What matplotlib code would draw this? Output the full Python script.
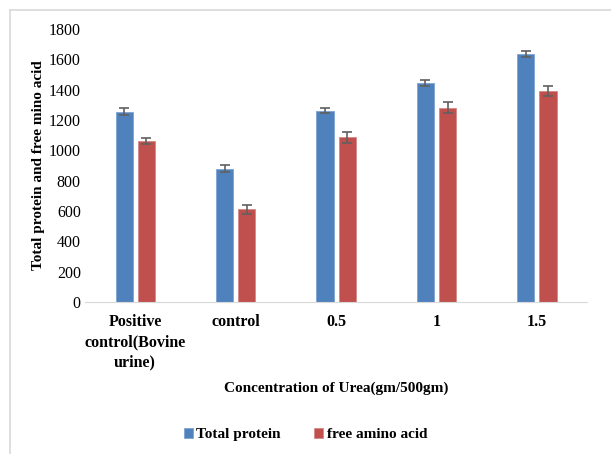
import matplotlib
matplotlib.use("Agg")
import matplotlib.pyplot as plt
from matplotlib.lines import Line2D
import numpy as np

# data
categories = ["Positive\ncontrol(Bovine\nurine)", "control", "0.5", "1", "1.5"]
total_protein = [1255, 880, 1262, 1445, 1635]
total_protein_err = [22, 22, 18, 22, 18]
free_amino = [1062, 610, 1085, 1282, 1390]
free_amino_err = [20, 28, 35, 38, 32]
yticks = [0, 200, 400, 600, 800, 1000, 1200, 1400, 1600, 1800]

plt.rcParams['font.family'] = ['Liberation Serif', 'DejaVu Serif']

fig = plt.figure(figsize=(6.11, 4.54), dpi=100)
ax = fig.add_axes([0.139, 0.335, 0.822, 0.601])

x = np.arange(len(categories))
w = 0.17
err_kw = dict(ecolor='#606060', capsize=3.5, elinewidth=1.2, capthick=1.2)
ax.bar(x - 0.11, total_protein, w, yerr=total_protein_err, color='#4f81bd',
       edgecolor='#7ea3d3', linewidth=0.6, label='Total protein', error_kw=err_kw)
ax.bar(x + 0.11, free_amino, w, yerr=free_amino_err, color='#c0504d',
       edgecolor='#d58a88', linewidth=0.6, label='free amino acid', error_kw=err_kw)

ax.set_xlim(-0.5, len(categories) - 0.5)
ax.set_ylim(0, 1800)
ax.set_yticks(yticks)
ax.set_xticks(x)
ax.set_xticklabels(categories, fontweight='bold', fontsize=11.5, linespacing=1.35)
ax.tick_params(axis='y', labelsize=11.5, length=0, pad=3)
ax.tick_params(axis='x', length=0, pad=9)

for s in ['top', 'right', 'left']:
    ax.spines[s].set_visible(False)
ax.spines['bottom'].set_color('#d9d9d9')

ax.set_ylabel("Total protein and free mino acid", fontweight='bold', fontsize=11, labelpad=3)
ax.set_xlabel("Concentration of Urea(gm/500gm)", fontweight='bold', fontsize=11, labelpad=8)

fig.legend(loc='center', bbox_to_anchor=(0.5, 0.043), ncol=2, frameon=False,
           prop={'weight': 'bold', 'size': 11}, handlelength=0.6, handleheight=0.6,
           handletextpad=0.2, columnspacing=2.2)

# light chart frame (top and left edges visible)
fig.add_artist(Line2D([0.0165, 1.0], [0.978, 0.978], color='#d9d9d9', lw=1.2))
fig.add_artist(Line2D([0.0165, 0.0165], [0.0, 0.978], color='#d9d9d9', lw=1.2))

fig.savefig("out.png", dpi=100)
